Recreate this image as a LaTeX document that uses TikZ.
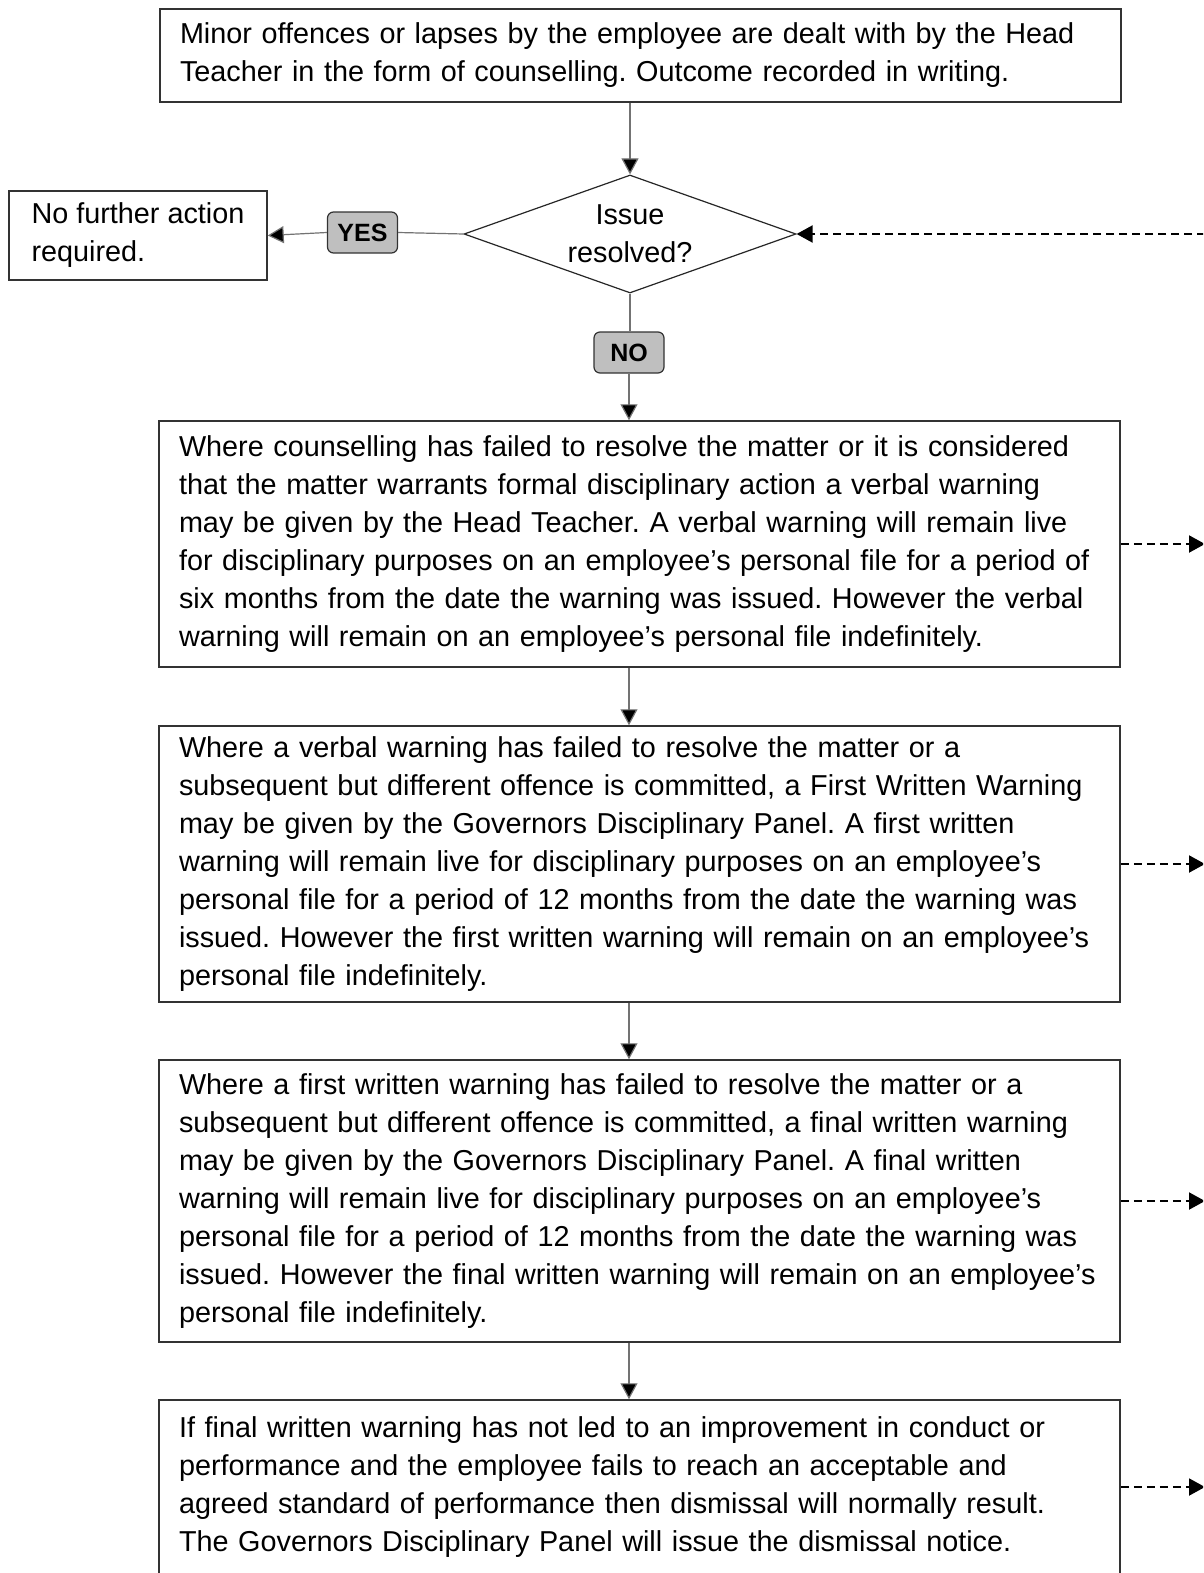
\documentclass[tikz,border=0pt]{standalone}
\usepackage{fontspec}
\setmainfont{Liberation Sans}
\usetikzlibrary{shapes.geometric,arrows.meta}
\frenchspacing
\hyphenpenalty=10000

\begin{document}
\begin{tikzpicture}[x=1pt, y=-1pt, font=\fontsize{28.8}{38}\selectfont,
	stagebox/.style={draw=black!80, line width=1.5pt, rectangle, align=left,
		text width=921pt, inner xsep=20pt, inner ysep=2pt, minimum width=961pt},
	endbox/.style={draw=black!80, line width=1.5pt, rectangle, align=left,
		inner xsep=20pt, inner ysep=2pt, minimum width=258pt, minimum height=89pt},
	decision/.style={draw=black!85, line width=1.2pt, diamond,
		minimum width=332pt, minimum height=118pt, inner sep=0pt},
	answer/.style={draw=black!80, line width=1.2pt, fill=black!25, rounded corners=6pt,
		font=\fontsize{25}{30}\selectfont\bfseries, minimum width=70pt, minimum height=41pt, inner sep=0pt},
	link/.style={draw=black!55, line width=1.2pt},
	tip/.style={-{Triangle[length=16pt,width=17pt,fill=black]}},
	backlink/.style={draw=black, line width=2pt, dash pattern=on 8pt off 5pt}]
	%page
	\fill[white] (0,0) rectangle (1203,1573);
	\clip (0,0) rectangle (1203,1573);
	\coordinate (edge) at (1205,0);
	%boxes
	\node[stagebox, minimum height=93pt] (start) at (640.5,55.5)
	{Minor offences or lapses by the employee are dealt with by the Head\\
		Teacher in the form of counselling. Outcome recorded in writing.};
	\node[decision, label={[name=question, align=center]center:Issue\\resolved?}] (dia) at (630,234) {};
	\node[endbox] (noaction) at (138,235.5) {No further action\\required.};
	\node[stagebox, minimum height=246pt] (verbal) at (639.5,544)
	{Where counselling has failed to resolve the matter or it is considered\\
		that the matter warrants formal disciplinary action a verbal warning\\
		may be given by the Head Teacher. A verbal warning will remain live\\
		for disciplinary purposes on an employee’s personal file for a period of\\
		six months from the date the warning was issued. However the verbal\\
		warning will remain on an employee’s personal file indefinitely.};
	\node[stagebox, minimum height=276pt] (first) at (639.5,864)
	{Where a verbal warning has failed to resolve the matter or a\\
		subsequent but different offence is committed, a First Written Warning\\
		may be given by the Governors Disciplinary Panel. A first written\\
		warning will remain live for disciplinary purposes on an employee’s\\
		personal file for a period of 12 months from the date the warning was\\
		issued. However the first written warning will remain on an employee’s\\
		personal file indefinitely.};
	\node[stagebox, minimum height=282pt] (final) at (639.5,1201)
	{Where a first written warning has failed to resolve the matter or a\\
		subsequent but different offence is committed, a final written warning\\
		may be given by the Governors Disciplinary Panel. A final written\\
		warning will remain live for disciplinary purposes on an employee’s\\
		personal file for a period of 12 months from the date the warning was\\
		issued. However the final written warning will remain on an employee’s\\
		personal file indefinitely.};
	\node[stagebox, minimum height=174pt] (dismissal) at (639.5,1487)
	{If final written warning has not led to an improvement in conduct or\\
		performance and the employee fails to reach an acceptable and\\
		agreed standard of performance then dismissal will normally result.\\
		The Governors Disciplinary Panel will issue the dismissal notice.};
	%answers
	\node[answer] (yes) at (362.5,232.5) {YES};
	\node[answer] (no) at (629,352.5) {NO};
	%connectors
	\draw[link, tip] (start.south -| dia.north) -- (dia.north);
	\draw[link] (dia.west) -- (yes.east);
	\draw[link, tip] (yes.west) -- (noaction.east);
	\draw[link] (dia.south) -- (no.north -| dia.south);
	\draw[link, tip] (no.south) -- (no.south |- verbal.north);
	\draw[link, tip] (verbal.south -| no.south) -- (first.north -| no.south);
	\draw[link, tip] (first.south -| no.south) -- (final.north -| no.south);
	\draw[link, tip] (final.south -| no.south) -- (dismissal.north -| no.south);
	%dashed returns
	\draw[backlink, tip] (dia.east -| edge) -- (dia.east);
	\foreach \b in {verbal,first,final,dismissal}
	\draw[backlink, tip] (\b.east) -- (\b.east -| edge);
\end{tikzpicture}
\end{document}
